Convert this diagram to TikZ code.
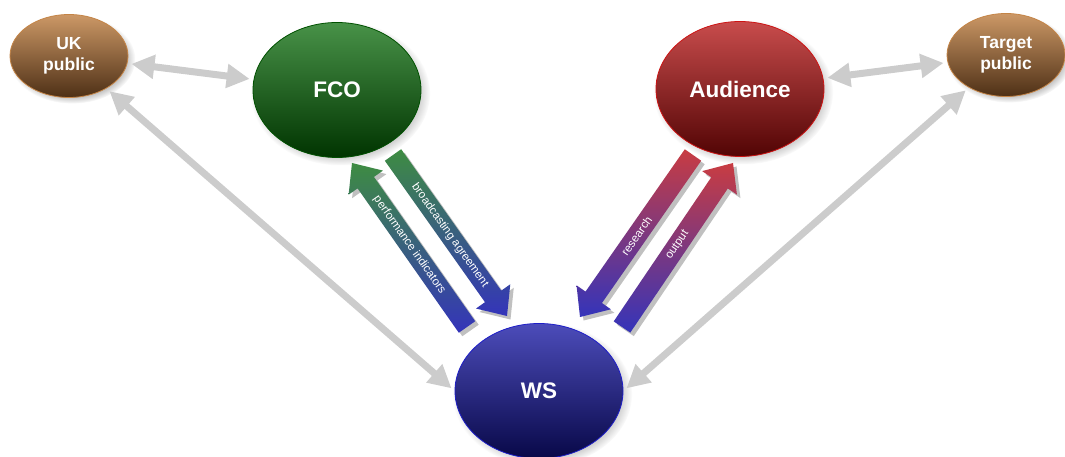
\documentclass[tikz,border=0pt]{standalone}
\usepackage{fontspec}
\setmainfont{Liberation Sans}
\usetikzlibrary{calc,shapes.geometric,arrows.meta,shadows,fadings}

\definecolor{brownTop}{RGB}{204,152,102}
\definecolor{brownBot}{RGB}{78,48,22}
\definecolor{brownRim}{RGB}{196,132,70}
\definecolor{greenTop}{RGB}{72,146,72}
\definecolor{greenBot}{RGB}{0,52,0}
\definecolor{greenRim}{RGB}{0,80,0}
\definecolor{redTop}{RGB}{200,76,76}
\definecolor{redBot}{RGB}{82,4,4}
\definecolor{redRim}{RGB}{205,20,20}
\definecolor{blueTop}{RGB}{76,76,186}
\definecolor{blueBot}{RGB}{8,8,72}
\definecolor{blueRim}{RGB}{30,30,200}
\definecolor{linkGray}{RGB}{204,204,204}
\definecolor{flowGreen}{RGB}{62,140,66}
\definecolor{flowRed}{RGB}{200,60,66}
\definecolor{flowBlue}{RGB}{52,52,186}
\definecolor{flowShadow}{RGB}{192,192,192}

\tikzset{
  bubble/.style={ellipse, inner sep=0pt, text=white, align=center,
    line width=0.8pt,
    circular drop shadow={shadow xshift=3pt, shadow yshift=-3pt,
      shadow scale=1.07, opacity=0.45}},
  bigbubble/.style={bubble, minimum width=168pt, minimum height=135pt,
    font=\fontsize{22.5}{26}\selectfont\bfseries},
  smallbubble/.style={bubble, minimum width=118pt, minimum height=83pt,
    top color=brownTop, bottom color=brownBot, draw=brownRim,
    font=\fontsize{17.5}{21.5}\selectfont\bfseries},
  link/.style={draw=linkGray, line width=7pt,
    {Triangle[length=23pt,width=23pt]}-{Triangle[length=23pt,width=23pt]},
    shorten <=4pt, shorten >=4pt},
  flowlabel/.style={text=white, font=\fontsize{11.5}{13}\selectfont,
    inner sep=0pt},
  flowshadow/.style={fill=flowShadow,
    transform canvas={shift={(3.5pt,-3.5pt)}}},
}

% broad shaded arrow from #1 (tail) to #2 (tip), label #3, upper colour #4
\newcommand\flowarrow[5]{%
  \coordinate (#5h) at ($(#2)!24pt!(#1)$);
  \coordinate (#5a) at ($(#1)!10pt!-90:(#2)$);
  \coordinate (#5b) at ($(#5h)!10pt!-90:(#2)$);
  \coordinate (#5c) at ($(#5h)!21pt!-90:(#2)$);
  \coordinate (#5d) at ($(#5h)!21pt!90:(#2)$);
  \coordinate (#5e) at ($(#5h)!10pt!90:(#2)$);
  \coordinate (#5f) at ($(#1)!10pt!90:(#2)$);
  \fill[flowshadow] (#5a) -- (#5b) -- (#5c) -- (#2) -- (#5d) -- (#5e) -- (#5f) -- cycle;
  \shade[top color=#4, bottom color=flowBlue]
    (#5a) -- (#5b) -- (#5c) -- (#2) -- (#5d) -- (#5e) -- (#5f) -- cycle;
  \path (#1) -- (#2) node[midway, sloped, flowlabel] {#3};
}

\begin{document}
\begin{tikzpicture}[x=1pt, y=1pt]
  \useasboundingbox (0,0) rectangle (1065,457);

  % participants
  \node[smallbubble] (uk) at (69,401) {UK\\public};
  \node[bigbubble, top color=greenTop, bottom color=greenBot, draw=greenRim]
    (fco) at (337,367) {FCO};
  \node[bigbubble, top color=redTop, bottom color=redBot, draw=redRim]
    (aud) at (740,368) {Audience};
  \node[smallbubble] (tgt) at (1006,402) {Target\\public};
  \node[bigbubble, top color=blueTop, bottom color=blueBot, draw=blueRim]
    (ws) at (539,66) {WS};

  % two-way relations
  \draw[link] (uk) -- (fco);
  \draw[link] (aud) -- (tgt);
  \draw[link] (uk) -- (ws.west);
  \draw[link] (tgt) -- (ws.east);

  % end points of the flows
  \coordinate (piT) at ($(ws.center)+(-72,64)$);
  \coordinate (piE) at ($(fco.center)+(15,-73)$);
  \coordinate (baT) at ($(fco.center)+(56,-65)$);
  \coordinate (baE) at ($(ws.center)+(-32,75)$);
  \coordinate (reT) at ($(aud.center)+(-47,-66)$);
  \coordinate (reE) at ($(ws.center)+(41,74)$);
  \coordinate (ouT) at ($(ws.center)+(83,64)$);
  \coordinate (ouE) at ($(aud.center)+(-7,-74)$);

  \flowarrow{piT}{piE}{performance indicators}{flowGreen}{pi}
  \flowarrow{baT}{baE}{broadcasting agreement}{flowGreen}{ba}
  \flowarrow{reT}{reE}{research}{flowRed}{re}
  \flowarrow{ouT}{ouE}{output}{flowRed}{ou}
\end{tikzpicture}
\end{document}
